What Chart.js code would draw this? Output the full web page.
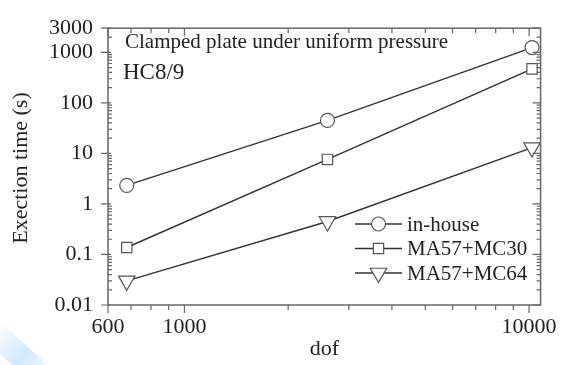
<!DOCTYPE html>
<html>
<head>
<meta charset="utf-8">
<script src="https://cdn.jsdelivr.net/npm/chart.js@4/dist/chart.umd.min.js"></script>
<style>
  html, body { margin: 0; padding: 0; background: #fff; }
  #wrap { position: relative; width: 566px; height: 365px; overflow: hidden; }
  #mark { position: absolute; left: 0px; top: 322px; width: 80px; height: 24px;
          transform: rotate(42deg); transform-origin: left top;
          background: linear-gradient(90deg, rgba(120,190,255,0.0), rgba(120,190,255,0.35), rgba(120,190,255,0.0)); }
  canvas { position: absolute; left: 0; top: 0; }
</style>
</head>
<body>
<div id="wrap">
  <div id="mark"></div>
  <canvas id="chart" width="566" height="365"></canvas>
</div>
<script>
// ============= Data =============
const dof = [680, 2600, 10200];
const seriesNames = ['in-house', 'MA57+MC30', 'MA57+MC64'];
const inHouse = [2.33, 45, 1240];
const ma57mc30 = [0.137, 7.6, 470];
const ma57mc64 = [0.03, 0.45, 13];
const xTicks = [600, 1000, 10000];
const yTicks = [0.01, 0.1, 1, 10, 100, 1000, 3000];

const serif = '"Liberation Serif", "DejaVu Serif", serif';
const axisColor = '#666';

(function () {
    const markers = [
        { pointStyle: 'circle', radius: 7, rotation: 0 },
        { pointStyle: 'rect', radius: 7.3, rotation: 0 },
        { pointStyle: 'triangle', radius: 9.5, rotation: 180 }
    ];
    const values = [inHouse, ma57mc30, ma57mc64];

    const datasets = values.map((vals, i) => ({
        label: seriesNames[i],
        data: vals.map((v, j) => ({ x: dof[j], y: v })),
        borderColor: '#333',
        borderWidth: 1.5,
        pointStyle: markers[i].pointStyle,
        pointRadius: markers[i].radius,
        pointRotation: markers[i].rotation,
        pointBorderColor: '#555',
        pointBorderWidth: 1.2,
        pointBackgroundColor: '#fff',
        tension: 0
    }));

    // minor tick values for a log axis (2..9 per decade)
    function minorTicks(min, max) {
        const out = [];
        for (let e = Math.floor(Math.log10(min)); e <= Math.ceil(Math.log10(max)); e++) {
            for (let m = 2; m <= 9; m++) {
                const v = m * Math.pow(10, e);
                if (v > min && v < max) out.push(v);
            }
        }
        return out;
    }

    const framePlugin = {
        id: 'frame',
        afterDraw(chart) {
            const ctx = chart.ctx;
            const a = chart.chartArea;
            const xs = chart.scales.x, ys = chart.scales.y;
            ctx.save();
            ctx.strokeStyle = axisColor;
            ctx.lineWidth = 1.5;
            ctx.strokeRect(a.left, a.top, a.right - a.left, a.bottom - a.top);

            ctx.lineWidth = 1.2;
            ctx.beginPath();
            // x ticks: bottom outward, top inward
            xTicks.forEach(v => {
                const px = xs.getPixelForValue(v);
                ctx.moveTo(px, a.bottom); ctx.lineTo(px, a.bottom + 8);
                ctx.moveTo(px, a.top); ctx.lineTo(px, a.top + 8);
            });
            minorTicks(xs.min, xs.max).forEach(v => {
                if (xTicks.includes(v)) return;
                const px = xs.getPixelForValue(v);
                ctx.moveTo(px, a.bottom); ctx.lineTo(px, a.bottom + 5);
                ctx.moveTo(px, a.top); ctx.lineTo(px, a.top + 5);
            });
            // y ticks: left major outward, minor inward; right inward
            yTicks.forEach(v => {
                const py = ys.getPixelForValue(v);
                ctx.moveTo(a.left - 7, py); ctx.lineTo(a.left + 3, py);
                ctx.moveTo(a.right, py); ctx.lineTo(a.right - 8, py);
            });
            minorTicks(ys.min, ys.max).forEach(v => {
                if (yTicks.includes(v)) return;
                const py = ys.getPixelForValue(v);
                ctx.moveTo(a.left, py); ctx.lineTo(a.left + 4, py);
                ctx.moveTo(a.right, py); ctx.lineTo(a.right - 4, py);
            });
            ctx.stroke();

            // axis titles
            ctx.fillStyle = '#222';
            ctx.font = '22px ' + serif;
            ctx.textAlign = 'center';
            ctx.textBaseline = 'middle';
            ctx.fillText('dof', (a.left + a.right) / 2, 349);
            ctx.save();
            ctx.translate(21, 168);
            ctx.rotate(-Math.PI / 2);
            ctx.fillText('Exection time (s)', 0, 0);
            ctx.restore();

            // annotations
            ctx.textAlign = 'left';
            ctx.font = '21px ' + serif;
            ctx.fillText('Clamped plate under uniform pressure', 125, 42);
            ctx.font = '23px ' + serif;
            ctx.fillText('HC8/9', 123, 73);

            // legend
            ctx.font = '21px ' + serif;
            chart.data.datasets.forEach((ds, i) => {
                const y = 224 + i * 24.5;
                ctx.strokeStyle = ds.borderColor;
                ctx.lineWidth = ds.borderWidth;
                ctx.beginPath();
                ctx.moveTo(355, y); ctx.lineTo(402, y);
                ctx.stroke();
                ctx.fillStyle = '#fff';
                ctx.strokeStyle = ds.pointBorderColor;
                ctx.lineWidth = ds.pointBorderWidth;
                Chart.helpers.drawPoint(ctx, {
                    pointStyle: ds.pointStyle,
                    rotation: ds.pointRotation,
                    radius: ds.pointRadius,
                    borderWidth: ds.pointBorderWidth
                }, 378.5, y);
                ctx.fillStyle = '#222';
                ctx.fillText(ds.label, 407, y + 1);
            });
            ctx.restore();
        }
    };

    new Chart(document.getElementById('chart'), {
        type: 'line',
        data: { datasets },
        options: {
            responsive: false,
            animation: false,
            layout: { padding: { top: 20, right: 16, left: 0, bottom: 0 } },
            plugins: { legend: { display: false }, tooltip: { enabled: false } },
            scales: {
                x: {
                    type: 'logarithmic',
                    min: 600,
                    max: 10800,
                    grid: { display: false, drawTicks: false },
                    border: { display: false },
                    afterBuildTicks: s => { s.ticks = xTicks.map(v => ({ value: v })); },
                    afterFit: s => { s.height = 60; },
                    ticks: {
                        autoSkip: false, maxRotation: 0, padding: 9, color: '#222',
                        font: { family: serif, size: 22 },
                        callback: v => String(v)
                    }
                },
                y: {
                    type: 'logarithmic',
                    min: 0.01,
                    max: 3000,
                    grid: { display: false, drawTicks: false },
                    border: { display: false },
                    afterBuildTicks: s => { s.ticks = yTicks.map(v => ({ value: v })); },
                    afterFit: s => { s.width = 108; },
                    ticks: {
                        autoSkip: false, padding: 15, color: '#222',
                        font: { family: serif, size: 22 },
                        callback: v => String(v)
                    }
                }
            }
        },
        plugins: [framePlugin]
    });
})();
</script>
</body>
</html>
